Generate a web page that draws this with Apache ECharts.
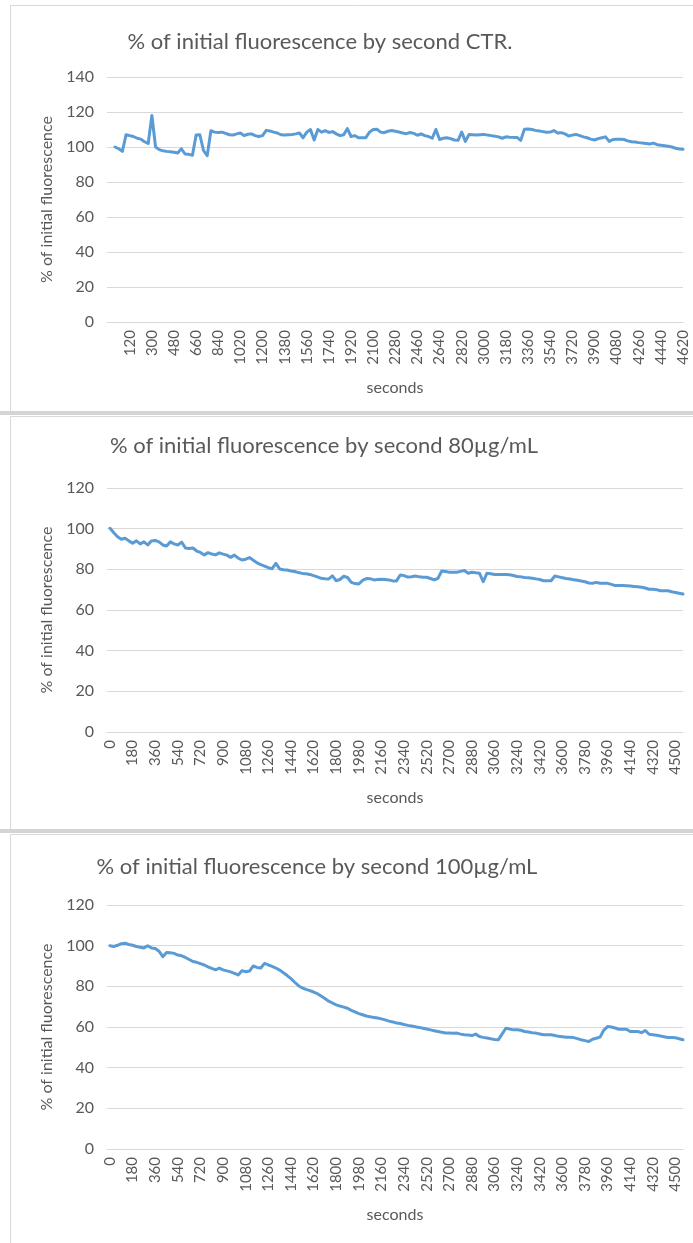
<!DOCTYPE html>
<html>
<head>
<meta charset="utf-8">
<script src="https://cdn.jsdelivr.net/npm/echarts@6/dist/echarts.min.js"></script>
<style>
  html, body { margin: 0; padding: 0; background: #ffffff; }
  #chart { width: 693px; height: 1243px; }
</style>
</head>
<body>
<div id="chart"></div>
<script>
// Sampling step of the recordings, in seconds
const STEP = 30;

// % of initial fluorescence, control (CTR.)
const ctrValues = [
  100, 99, 97.5, 107, 106.5, 106, 105, 104.5, 103, 102,
  118, 100, 98.5, 97.8, 97.5, 97.3, 97, 96.6, 99, 96,
  95.8, 95.3, 106.8, 107, 98, 95, 109.3, 108.5, 108.3, 108.5,
  107.8, 107, 106.8, 107.5, 108, 106.5, 107.3, 107.5, 106.5, 106,
  106.5, 109.5, 109.2, 108.5, 108, 107, 106.8, 107, 107.2, 107.5,
  108, 105.3, 108.5, 110, 104, 110, 108.5, 109.3, 108.3, 108.8,
  107.5, 106.5, 107, 110.5, 106, 106.5, 105.3, 105.3, 105.3, 108.5,
  110, 110.2, 108.5, 108.2, 109, 109.4, 109, 108.6, 108, 107.6,
  108.3, 107.8, 106.7, 107.5, 106.5, 106, 105, 110, 104.3, 105,
  105.3, 104.8, 104, 103.8, 108.5, 103.2, 107.2, 107, 106.8, 107,
  107.2, 106.8, 106.5, 106.2, 105.8, 105, 105.8, 105.6, 105.5, 105.5,
  103.8, 110.2, 110.3, 110, 109.5, 109.2, 108.8, 108.4, 108.5, 109.4,
  108, 108.2, 107.5, 106.3, 106.8, 107.2, 106.5, 105.8, 105.3, 104.5,
  104, 104.8, 105.3, 105.8, 103.2, 104.3, 104.4, 104.4, 104.3, 103.5,
  103, 102.8, 102.5, 102.3, 102, 101.7, 102.2, 101.3, 101, 100.7,
  100.4, 100, 99.3, 98.9, 98.7
];

// % of initial fluorescence, 80 µg/mL
const ug80Values = [
  100.2, 98, 96, 94.8, 95.3, 94, 92.8, 94, 92.5, 93.5,
  92, 94, 94.2, 93.5, 92, 91.5, 93.5, 92.5, 92, 93.4,
  90.5, 90.2, 90.5, 89, 88.3, 87.1, 88.2, 87.5, 87.1, 88.1,
  87.5, 87, 85.9, 87, 85.5, 84.6, 85, 85.8, 84.5, 83.2,
  82.3, 81.6, 80.8, 80.3, 82.9, 80.2, 79.8, 79.7, 79.2, 78.9,
  78.4, 78, 77.8, 77.5, 76.9, 76.3, 75.6, 75.4, 75.3, 76.8,
  74.4, 75, 76.6, 76, 73.6, 73, 72.8, 74.6, 75.5, 75.4,
  74.8, 75, 75.1, 75, 74.8, 74.3, 74.3, 77.2, 76.9, 76.2,
  76.4, 76.7, 76.3, 76.1, 76.1, 75.5, 74.8, 75.6, 79.2, 78.9,
  78.6, 78.6, 78.6, 79, 79.4, 78.1, 78.6, 78.3, 78.1, 73.9,
  78.1, 77.8, 77.5, 77.5, 77.5, 77.5, 77.3, 77, 76.5, 76.3,
  76, 75.9, 75.6, 75.3, 75, 74.4, 74.4, 74.4, 76.7, 76.3,
  75.9, 75.5, 75.2, 74.9, 74.6, 74.3, 73.9, 73.3, 73.2, 73.6,
  73.2, 73.1, 73.1, 72.6, 72, 72, 72, 71.9, 71.8, 71.6,
  71.4, 71.2, 70.8, 70.2, 70.2, 70, 69.5, 69.5, 69.5, 69,
  68.6, 68.2, 67.9
];

// % of initial fluorescence, 100 µg/mL
const ug100Values = [
  100, 99.6, 100.2, 101, 101.2, 100.6, 100.2, 99.6, 99.2, 98.9,
  100, 98.9, 98.6, 97.3, 94.6, 96.6, 96.5, 96.2, 95.4, 95,
  94.2, 93.2, 92.2, 91.8, 91.2, 90.5, 89.6, 88.8, 88.1, 88.9,
  88.1, 87.6, 87.1, 86.4, 85.6, 87.7, 87.2, 87.5, 90, 89.3,
  89, 91.3, 90.5, 89.8, 89, 88, 86.7, 85.3, 83.8, 82,
  80.3, 79.2, 78.5, 77.9, 77.2, 76.4, 75.2, 74, 72.7, 71.8,
  70.9, 70.3, 69.8, 69.2, 68.2, 67.4, 66.6, 66, 65.4, 65,
  64.7, 64.4, 64, 63.5, 62.9, 62.5, 62, 61.7, 61.2, 60.8,
  60.5, 60.1, 59.8, 59.4, 59, 58.6, 58.2, 57.8, 57.4, 57.1,
  57, 56.9, 57, 56.5, 56.2, 56.1, 55.8, 56.5, 55.3, 54.9,
  54.6, 54.2, 53.9, 53.7, 56.5, 59.4, 59, 58.6, 58.6, 58.4,
  57.8, 57.5, 57.2, 57, 56.6, 56.2, 56.2, 56.2, 55.8, 55.4,
  55.2, 55, 54.9, 54.8, 54.3, 53.7, 53.3, 52.9, 54, 54.5,
  55, 58.5, 60.2, 60, 59.5, 58.9, 58.9, 58.9, 57.8, 57.8,
  57.8, 57.2, 58.3, 56.4, 56.2, 55.9, 55.6, 55.2, 54.8, 54.8,
  54.7, 54.2, 53.7
];

// Category labels shown under each time axis
const ctrTicks = [120, 300, 480, 660, 840, 1020, 1200, 1380, 1560, 1740, 1920, 2100, 2280,
  2460, 2640, 2820, 3000, 3180, 3360, 3540, 3720, 3900, 4080, 4260, 4440, 4620];
const ugTicks = [0, 180, 360, 540, 720, 900, 1080, 1260, 1440, 1620, 1800, 1980, 2160,
  2340, 2520, 2700, 2880, 3060, 3240, 3420, 3600, 3780, 3960, 4140, 4320, 4500];

const titles = [
  '% of initial fluorescence by second CTR.',
  '% of initial fluorescence by second 80µg/mL',
  '% of initial fluorescence by second 100µg/mL'
];
const yAxisTitle = '% of initial fluorescence';
const xAxisTitle = 'seconds';

function toPairs(values) {
  return values.map((v, i) => [i * STEP, v]);
}

const FONT = 'Lato, "Open Sans", sans-serif';
const TEXT = '#595959';
const GRID_LINE = '#d9d9d9';

// Layout of the three stacked panels
const panels = [
  { title: titles[0], values: ctrValues, ticks: ctrTicks, yMax: 140,
    top: 77, height: 245, xMin: -65, xMax: 4620, titleX: 320, titleY: 42, frameTop: 5, frameBottom: 411 },
  { title: titles[1], values: ug80Values, ticks: ugTicks, yMax: 120,
    top: 488, height: 244, xMin: -24, xMax: 4560, titleX: 324, titleY: 446, frameTop: 416, frameBottom: 829 },
  { title: titles[2], values: ug100Values, ticks: ugTicks, yMax: 120,
    top: 905, height: 244, xMin: -24, xMax: 4560, titleX: 317, titleY: 867, frameTop: 834, frameBottom: 1243 }
];

const GRID_LEFT = 107;
const GRID_WIDTH = 576;

const option = {
  animation: false,
  backgroundColor: '#ffffff',
  grid: panels.map(p => ({ left: GRID_LEFT, width: GRID_WIDTH, top: p.top, height: p.height })),
  xAxis: panels.map((p, i) => ({
    type: 'value',
    gridIndex: i,
    min: p.xMin,
    max: p.xMax,
    name: xAxisTitle,
    nameLocation: 'middle',
    nameGap: 58,
    nameTextStyle: { color: TEXT, fontSize: 16, fontFamily: FONT },
    axisLine: { show: true, lineStyle: { color: GRID_LINE, width: 1 } },
    axisTick: { show: false },
    splitLine: { show: false },
    axisLabel: {
      customValues: p.ticks,
      formatter: v => String(v),
      rotate: 90,
      margin: 8,
      color: TEXT,
      fontSize: 15,
      fontFamily: FONT,
      showMinLabel: true,
      showMaxLabel: true
    }
  })),
  yAxis: panels.map((p, i) => ({
    type: 'value',
    gridIndex: i,
    min: 0,
    max: p.yMax,
    interval: 20,
    name: yAxisTitle,
    nameLocation: 'middle',
    nameGap: 51,
    nameTextStyle: { color: TEXT, fontSize: 16, fontFamily: FONT },
    axisLine: { show: false },
    axisTick: { show: false },
    splitLine: { show: true, lineStyle: { color: GRID_LINE, width: 1 } },
    axisLabel: { color: TEXT, fontSize: 16, fontFamily: FONT, margin: 13 }
  })),
  series: panels.map((p, i) => ({
    type: 'line',
    xAxisIndex: i,
    yAxisIndex: i,
    data: toPairs(p.values),
    showSymbol: false,
    symbol: 'none',
    lineStyle: { color: '#5b9bd5', width: 3, join: 'round', cap: 'round' },
    itemStyle: { color: '#5b9bd5' }
  })),
  graphic: [].concat(
    // panel frames and separators
    panels.map(p => ({
      type: 'rect',
      silent: true,
      z: -10,
      shape: { x: 10.5, y: p.frameTop + 0.5, width: 700, height: p.frameBottom - p.frameTop },
      style: { fill: 'none', stroke: '#d9d9d9', lineWidth: 1 }
    })),
    [
      { type: 'rect', silent: true, z: -9, shape: { x: 0, y: 411, width: 693, height: 4 }, style: { fill: '#d4d4d4' } },
      { type: 'rect', silent: true, z: -9, shape: { x: 0, y: 829, width: 693, height: 4 }, style: { fill: '#d4d4d4' } }
    ],
    panels.map(p => ({
      type: 'text',
      silent: true,
      x: p.titleX,
      y: p.titleY,
      style: {
        text: p.title,
        fill: TEXT,
        font: '22px ' + FONT,
        textAlign: 'center',
        textVerticalAlign: 'middle'
      }
    }))
  )
};

const chart = echarts.init(document.getElementById('chart'), null, { renderer: 'canvas' });
chart.setOption(option);
</script>
</body>
</html>
